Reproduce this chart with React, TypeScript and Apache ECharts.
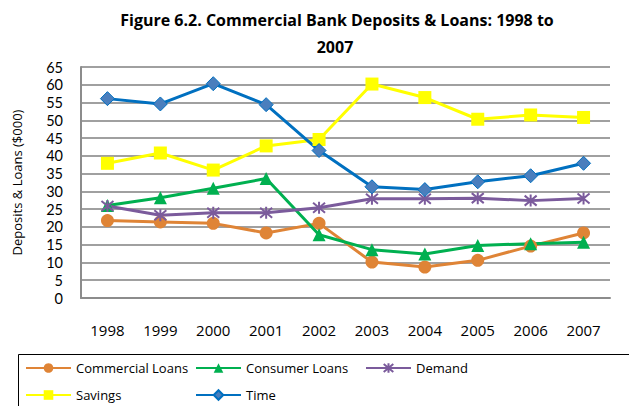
import React, { useEffect, useRef } from "react";
import * as echarts from "echarts";

const years = ["1998", "1999", "2000", "2001", "2002", "2003", "2004", "2005", "2006", "2007"];
const commercialLoans = [21.8, 21.4, 21.0, 18.3, 21.0, 10.1, 8.7, 10.6, 14.6, 18.3];
const consumerLoans = [26.0, 28.2, 30.9, 33.6, 17.8, 13.6, 12.4, 14.8, 15.3, 15.7];
const demand = [25.9, 23.3, 24.0, 24.0, 25.4, 27.9, 27.9, 28.1, 27.4, 28.0];
const savings = [37.9, 40.8, 36.0, 42.8, 44.6, 60.2, 56.4, 50.3, 51.5, 50.8];
const time = [56.1, 54.6, 60.3, 54.4, 41.5, 31.3, 30.5, 32.7, 34.4, 37.9];

const FONT = "Open Sans";

export default function App() {
  const ref = useRef<HTMLDivElement>(null);
  useEffect(() => {
    if (!ref.current) return;
    const chart = echarts.init(ref.current, undefined, { renderer: "svg" });
    const mk = (name: string, data: number[], color: string, symbol: string, size: number, extra: any = {}) => ({
      name,
      type: "line",
      data,
      symbol,
      symbolSize: size,
      lineStyle: { color: extra.lineColor || color, width: 3 },
      itemStyle: { color, borderColor: extra.border || color, borderWidth: extra.bw ?? 0 },
      z: extra.z || 2,
    });
    const legendText = { fontFamily: FONT, fontSize: 13, color: "#000", lineHeight: 14 };
    const legendAt = (name: string, left: number, top: number) => ({
      data: [name],
      left,
      top,
      padding: 0,
      itemWidth: 45,
      itemHeight: 12,
      textStyle: legendText,
      selectedMode: false,
      itemGap: 4,
    });
    chart.setOption({
      animation: false,
      textStyle: { fontFamily: FONT },
      grid: { left: 81, right: 19, top: 67, bottom: 108, containLabel: false },
      graphic: [
        {
          type: "text",
          x: 337,
          y: 20,
          style: {
            text: "Figure 6.2. Commercial Bank Deposits & Loans: 1998 to",
            fontFamily: FONT,
            fontWeight: "bold",
            fontSize: 16,
            fill: "#000",
            align: "center",
            verticalAlign: "middle",
          },
        },
        {
          type: "text",
          x: 335,
          y: 47,
          style: {
            text: "2007",
            fontFamily: FONT,
            fontWeight: "bold",
            fontSize: 16,
            fill: "#000",
            align: "center",
            verticalAlign: "middle",
          },
        },
        {
          type: "rect",
          shape: { x: 18.5, y: 354.5, width: 700, height: 100 },
          style: { fill: "none", stroke: "#000", lineWidth: 1 },
        },
      ],
      legend: [
        legendAt("Commercial Loans", 25, 361),
        legendAt("Consumer Loans", 195, 361),
        legendAt("Demand", 365, 361),
        legendAt("Savings", 25, 388),
        legendAt("Time", 195, 388),
      ],
      xAxis: {
        type: "category",
        data: years,
        boundaryGap: true,
        axisLine: { show: true, lineStyle: { color: "#8C8C8C", width: 2 } },
        axisTick: { show: false },
        axisLabel: { fontFamily: FONT, fontSize: 15, color: "#000", margin: 24 },
      },
      yAxis: {
        type: "value",
        min: 0,
        max: 65,
        interval: 5,
        name: "Deposits & Loans ($000)",
        nameLocation: "middle",
        nameRotate: 90,
        nameGap: 58,
        nameTextStyle: { fontFamily: FONT, fontSize: 13, color: "#000" },
        axisLine: { show: true, lineStyle: { color: "#8C8C8C", width: 2 } },
        axisTick: { show: false },
        axisLabel: { fontFamily: "Lato", fontSize: 14.5, color: "#000", margin: 18, lineHeight: 14 },
        splitLine: { lineStyle: { color: "#A0A0A0", width: 2 } },
      },
      series: [
        mk("Commercial Loans", commercialLoans, "#DF8436", "circle", 13),
        mk("Consumer Loans", consumerLoans, "#00B050", "triangle", 13),
        mk("Demand", demand, "#7B5B9C", "path://M0,0L10,10M10,0L0,10M5,-1L5,11", 12, { bw: 2 }),
        mk("Savings", savings, "#FFFF00", "rect", 13),
        mk("Time", time, "#4A7EBD", "diamond", 14, { lineColor: "#0070C0", border: "#0070C0", bw: 1 }),
      ],
    });
    return () => chart.dispose();
  }, []);
  return <div ref={ref} style={{ width: 629, height: 406, position: "absolute", left: 0, top: 0 }} />;
}
